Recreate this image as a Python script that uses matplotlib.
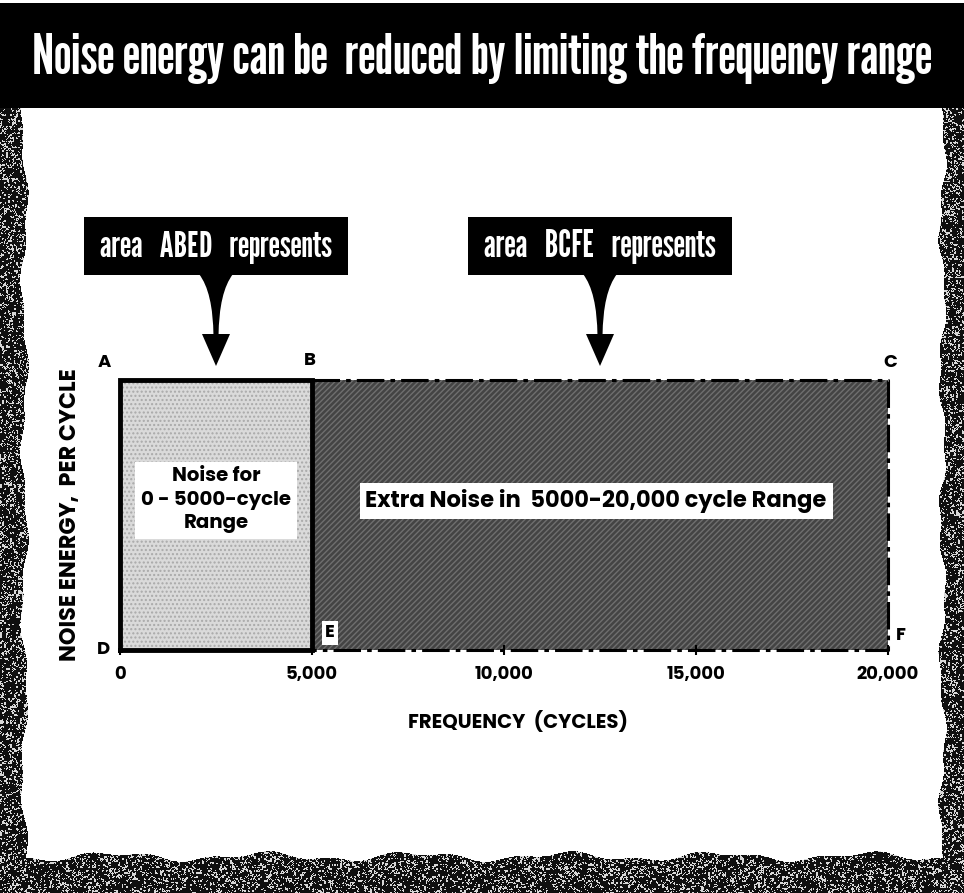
import numpy as np
import matplotlib
matplotlib.use('Agg')
import matplotlib.pyplot as plt
from matplotlib import font_manager
from matplotlib.patches import Rectangle, Polygon, PathPatch
from matplotlib.path import Path

# frequency bands (cycles) and the flat noise energy per cycle
band_edges = [0, 5000, 20000]
energy_per_cycle = 1.0
band_names = ['ABED', 'BCFE']
band_labels = ['Noise for\n0 - 5000-cycle\nRange',
               'Extra Noise in  5000-20,000 cycle Range']
xtick_values = [0, 5000, 10000, 15000, 20000]
xtick_labels = ['0', '5,000', '10,000', '15,000', '20,000']
corner_letters = ['A', 'B', 'C', 'D', 'E', 'F']
corner_points = [(0, 1), (5000, 1), (20000, 1), (0, 0), (5000, 0), (20000, 0)]
corner_offsets = [(-16, 17), (-2, 19), (2, 17), (-17, 0), (18, 17), (13, 14)]

TITLE = 'Noise energy can be  reduced by limiting the frequency range'

bold_fonts = {f.name for f in font_manager.fontManager.ttflist if f.weight in (700, 'bold')}
avail = {f.name for f in font_manager.fontManager.ttflist}


def pick(cands, pool):
    return next(c for c in cands if c in pool)


COND = pick(['League Gothic', 'Pathway Gothic One', 'Oswald', 'Antonio',
             'Roboto Condensed', 'DejaVu Sans'], avail)
GEO = pick(['Jost', 'League Spartan', 'Spartan', 'Poppins', 'Kumbh Sans',
            'Montserrat', 'Lato', 'DejaVu Sans'], bold_fonts)

W, H = 964, 893
fig = plt.figure(figsize=(W / 100, H / 100), dpi=100)
renderer = fig.canvas.get_renderer()


def fit(t, target, along='width'):
    bb = t.get_window_extent(renderer)
    size = bb.width if along == 'width' else bb.height
    t.set_fontsize(t.get_fontsize() * target / size)


# full-figure overlay in pixel units (y down) for banner, border and callouts
ov = fig.add_axes([0, 0, 1, 1], zorder=0)
ov.set_xlim(0, W)
ov.set_ylim(H, 0)
ov.axis('off')

# ragged printed border
rng = np.random.default_rng(3)
yy, xx = np.mgrid[0:H, 0:W]
ys = np.arange(H)
xs = np.arange(W)
left_edge = 24 + 3 * np.sin(ys / 26.0) + 1.5 * np.sin(ys / 9.3)
right_edge = W - 22 + 3 * np.sin(ys / 23.0 + 1) + 1.5 * np.sin(ys / 8.1)
bottom_edge = H - 37 + 3.5 * np.sin(xs / 24.0) + 2 * np.sin(xs / 9.7 + 2)
mask = ((xx < left_edge[:, None]) | (xx > right_edge[:, None]) |
        (yy > bottom_edge[None, :])) & (yy > 104)
coarse = rng.random((H // 2 + 1, W // 2 + 1))
coarse = np.repeat(np.repeat(coarse, 2, axis=0), 2, axis=1)[:H, :W]
fine = rng.random((H, W))
grain = np.where(0.6 * coarse + 0.4 * fine < 0.66, 0.06, 0.85)
rgba = np.zeros((H, W, 4))
rgba[..., 0] = rgba[..., 1] = rgba[..., 2] = grain
rgba[..., 3] = mask
ov.imshow(rgba, extent=(0, W, H, 0), interpolation='bilinear', zorder=0)

# title banner
ov.add_patch(Rectangle((0, 3), W, 105, fc='black', ec='none', zorder=1))
t = ov.text(W / 2, 58, TITLE, color='white', family=COND, fontsize=30,
            ha='center', va='center', zorder=2)
fit(t, 900)

# chart axes
x0, x1, ytop, ybot = 120, 888, 380, 650
ax = fig.add_axes([x0 / W, (H - ybot) / H, (x1 - x0) / W, (ybot - ytop) / H], zorder=1)
ax.patch.set_visible(False)
ax.set_xlim(band_edges[0], band_edges[-1])
ax.set_ylim(0, energy_per_cycle)
for s in ax.spines.values():
    s.set_visible(False)

# band areas
ax.bar(band_edges[0], energy_per_cycle, width=band_edges[1] - band_edges[0], align='edge',
       color='#dadada', hatch='....', edgecolor='#a9a9a9', linewidth=0, zorder=1)
ax.bar(band_edges[1], energy_per_cycle, width=band_edges[2] - band_edges[1], align='edge',
       color='#444444', hatch='//////', edgecolor='#6f6f6f', linewidth=0, zorder=1)

# outlines: solid for the kept band, dash-dot for the extra band
lo, mid, hi = band_edges
ax.plot([lo, lo, mid, mid, lo], [0, energy_per_cycle, energy_per_cycle, 0, 0],
        color='black', lw=3.5, solid_joinstyle='miter', clip_on=False, zorder=3)
ax.plot([mid, hi, hi, mid], [energy_per_cycle, energy_per_cycle, 0, 0],
        color='black', lw=2.2, ls=(0, (9, 2, 1.5, 2)), clip_on=False, zorder=3)

# band labels
t1 = ax.text((lo + mid) / 2, 0.555, band_labels[0], family=GEO, fontweight='bold',
             fontsize=14, ha='center', va='center', linespacing=1.3, zorder=4,
             bbox=dict(boxstyle='square,pad=0.3', fc='white', ec='none'))
fit(t1, 150)
t2 = ax.text((mid + hi) / 2 - 100, 0.552, band_labels[1], family=GEO, fontweight='bold',
             fontsize=12.5, ha='center', va='center', zorder=4,
             bbox=dict(boxstyle='square,pad=0.25', fc='white', ec='none'))
fit(t2, 462)

# corner letters
for letter, pt, off in zip(corner_letters, corner_points, corner_offsets):
    kw = {}
    if letter == 'E':
        kw['bbox'] = dict(boxstyle='square,pad=0.15', fc='white', ec='none')
    ax.annotate(letter, xy=pt, xytext=(off[0] * 0.72, off[1] * 0.72),
                textcoords='offset points', family=GEO, fontweight='bold',
                fontsize=13, ha='center', va='center', annotation_clip=False,
                zorder=5, **kw)

# axis ticks and labels
ax.set_xticks(xtick_values)
ax.set_xticklabels(xtick_labels, family=GEO, fontweight='bold', fontsize=13)
ax.tick_params(axis='x', length=7, width=1.5, direction='inout', pad=8)
ax.set_yticks([])
ax.set_xlabel('FREQUENCY  (CYCLES)', family=GEO, fontweight='bold', fontsize=12)
ax.xaxis.set_label_coords(0.518, -0.267)
ax.xaxis.label.set_va('center')
ax.set_ylabel('NOISE ENERGY,  PER CYCLE', family=GEO, fontweight='bold', fontsize=12)
ax.yaxis.set_label_coords(-0.065, 0.5)
ax.yaxis.label.set_va('center')
fit(ax.xaxis.label, 220)
fit(ax.yaxis.label, 292, along='height')


# callouts pointing at the middle of each band
def callout(x_data, text):
    tip_x, tip_y = ax.transData.transform((x_data, energy_per_cycle))
    tip_x, tip_y = tip_x, H - tip_y - 14
    box_w, box_top, box_h = 264, 217, 58
    ov.add_patch(Rectangle((tip_x - box_w / 2, box_top), box_w, box_h,
                           fc='black', ec='none', zorder=2))
    y0 = box_top + box_h - 1
    y1 = tip_y - 32
    verts = [(tip_x - 17, y0), (tip_x - 3, y0 + 18), (tip_x - 2.5, y1 + 2),
             (tip_x + 2.5, y1 + 2), (tip_x + 3, y0 + 18), (tip_x + 17, y0), (tip_x - 17, y0)]
    codes = [Path.MOVETO, Path.CURVE3, Path.CURVE3, Path.LINETO,
             Path.CURVE3, Path.CURVE3, Path.CLOSEPOLY]
    ov.add_patch(PathPatch(Path(verts, codes), fc='black', ec='none', zorder=2))
    ov.add_patch(Polygon([(tip_x - 14, y1), (tip_x + 14, y1), (tip_x, tip_y)],
                         closed=True, fc='black', ec='none', zorder=2))
    tt = ov.text(tip_x, box_top + box_h / 2 + 1, text, color='white', family=COND,
                 fontsize=20, ha='center', va='center', zorder=3)
    fit(tt, 232)


callout((lo + mid) / 2, f'area   {band_names[0]}   represents')
callout((mid + hi) / 2, f'area   {band_names[1]}   represents')

fig.savefig('out.png', dpi=100, facecolor='white')
